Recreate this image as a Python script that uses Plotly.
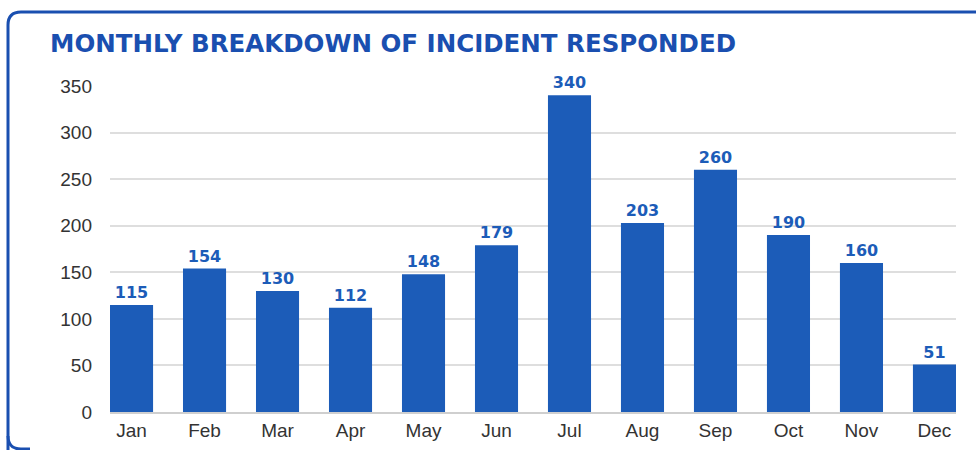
import plotly.graph_objects as go

months = ["Jan", "Feb", "Mar", "Apr", "May", "Jun",
          "Jul", "Aug", "Sep", "Oct", "Nov", "Dec"]
incidents = [115, 154, 130, 112, 148, 179, 340, 203, 260, 190, 160, 51]
y_ticks = [0, 50, 100, 150, 200, 250, 300, 350]

W, H = 976, 450
ML, MR, MT, MB = 110, 20, 86, 38
PW, PH = W - ML - MR, H - MT - MB

BLUE = "#1c5cb8"
TITLE_BLUE = "#1a4fb0"
BAR_W = 0.59


def px(x):
    return (x - ML) / PW


def py(y):
    return (H - MB - y) / PH


fig = go.Figure(go.Bar(
    x=list(range(len(months))),
    y=incidents,
    width=BAR_W,
    marker=dict(color=BLUE, line=dict(width=0)),
    text=[str(v) for v in incidents],
    textposition="outside",
    textfont=dict(family="DejaVu Sans", size=16, color=BLUE, weight="bold"),
    cliponaxis=False,
))

# rounded frame around the card (open on the right/bottom edge of the page)
r = 13
frame = (f"M {px(8)},{py(460)} L {px(8)},{py(12 + r)} "
         f"Q {px(8)},{py(12)} {px(8 + r)},{py(12)} "
         f"L {px(990)},{py(12)}")
frame_bottom = (f"M {px(8)},{py(436)} Q {px(8)},{py(449)} {px(8 + r)},{py(449)} "
                f"L {px(30)},{py(449)}")

fig.update_layout(
    width=W, height=H,
    margin=dict(l=ML, r=MR, t=MT, b=MB, autoexpand=False),
    paper_bgcolor="white", plot_bgcolor="white",
    showlegend=False,
    title=dict(
        text="<b>MONTHLY BREAKDOWN OF INCIDENT RESPONDED</b>",
        x=50 / W, xanchor="left", xref="container",
        y=1 - 43 / H, yanchor="middle", yref="container",
        font=dict(family="DejaVu Sans", size=24.5, color=TITLE_BLUE),
    ),
    xaxis=dict(
        tickmode="array",
        tickvals=list(range(len(months))),
        ticktext=months,
        range=[-BAR_W / 2, len(months) - 1 + BAR_W / 2],
        showgrid=False,
        showline=True, linecolor="#cfcfcf", linewidth=1.5,
        ticks="", automargin=False,
        tickfont=dict(family="Liberation Sans", size=19, color="#333333"),
    ),
    yaxis=dict(
        range=[0, 350],
        tickmode="array", tickvals=y_ticks,
        showgrid=True, gridcolor="#dedede", gridwidth=1.5,
        zeroline=False, automargin=False,
        ticks="", ticklabelstandoff=17,
        tickfont=dict(family="Liberation Sans", size=19, color="#333333"),
    ),
    shapes=[
        dict(type="path", path=frame, xref="paper", yref="paper",
             line=dict(color=TITLE_BLUE, width=3)),
        dict(type="path", path=frame_bottom, xref="paper", yref="paper",
             line=dict(color=TITLE_BLUE, width=3)),
    ],
)

fig.write_html("out.html")
